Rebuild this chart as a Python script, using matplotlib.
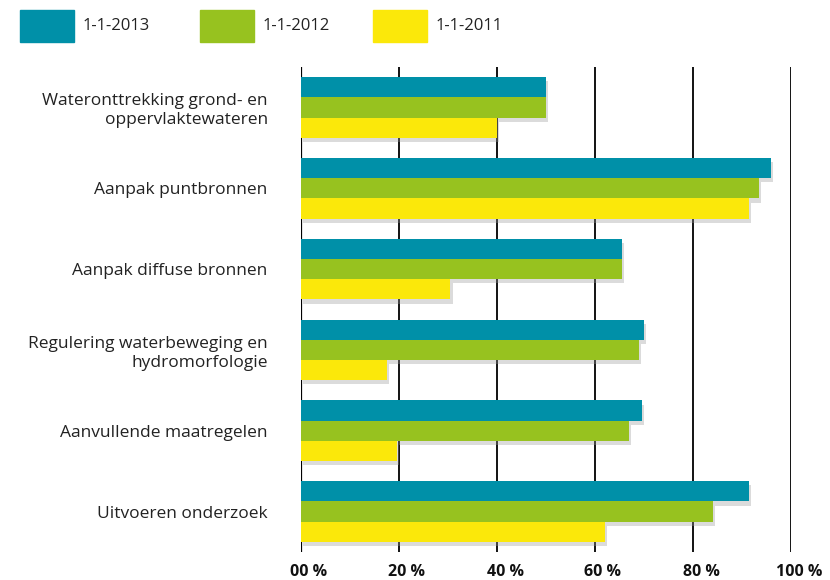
import numpy as np
import matplotlib
matplotlib.use("Agg")
import matplotlib.pyplot as plt
import matplotlib.patheffects as pe
import matplotlib.transforms as mtransforms
from matplotlib.patches import Rectangle

plt.rcParams['font.family'] = ['Open Sans', 'DejaVu Sans']

# Data (percentage of measures)
categories = ['Wateronttrekking grond- en\noppervlaktewateren',
              'Aanpak puntbronnen',
              'Aanpak diffuse bronnen',
              'Regulering waterbeweging en\nhydromorfologie',
              'Aanvullende maatregelen',
              'Uitvoeren onderzoek']
series_names = ['1-1-2013', '1-1-2012', '1-1-2011']
v2013 = [50, 96, 65.5, 70, 69.5, 91.5]
v2012 = [50, 93.5, 65.5, 69, 67, 84]
v2011 = [40, 91.5, 30.5, 17.5, 19.5, 62]
tick_values = [0, 20, 40, 60, 80, 100]
tick_labels = ['00 %', '20 %', '40 %', '60 %', '80 %', '100 %']

colors = ['#0090a8', '#97c21f', '#fbe80a']

fig = plt.figure(figsize=(8.3, 5.8), dpi=100)
ax = fig.add_axes([301/830, 1 - 552/580, 490/830, (552 - 67)/580])

y = np.arange(len(categories))
h = 0.25
shadow = [pe.SimplePatchShadow(offset=(1.5, -3), shadow_rgbFace='#9a9a9a', alpha=0.35), pe.Normal()]
for i, (vals, c) in enumerate(zip([v2013, v2012, v2011], colors)):
    bars = ax.barh(y + (i - 1) * h, vals, height=h, color=c, zorder=3)
    for b in bars:
        b.set_path_effects(shadow)

# vertical grid lines
for t in tick_values:
    ax.axvline(t, color='black', lw=1.6 if t == 0 else 1.3, zorder=1)

ax.set_xlim(0, 100)
ax.set_ylim(len(categories) - 0.5, -0.5)
for s in ax.spines.values():
    s.set_visible(False)

ax.set_yticks(y)
ax.set_yticklabels(categories, fontsize=12.5, color='#222222', ha='right', linespacing=1.25)
ax.tick_params(axis='y', length=0, pad=24)

ax.set_xticks(tick_values)
ax.set_xticklabels(tick_labels, fontsize=11.5, fontweight='bold', color='#111111')
ax.tick_params(axis='x', length=0, pad=9)
off = mtransforms.ScaledTranslation(8/100, 0, fig.dpi_scale_trans)
for lab in ax.get_xticklabels():
    lab.set_transform(lab.get_transform() + off)

# legend across the top
leg_x = [20, 200, 373]
for x0, c, name in zip(leg_x, colors, series_names):
    fig.patches.append(Rectangle((x0/830, 1 - 42/580), 54/830, 32/580,
                                 transform=fig.transFigure, color=c))
    fig.text((x0 + 63)/830, 1 - 26/580, name, fontsize=12, va='center', color='#222222')

fig.savefig('out.png', dpi=100)
